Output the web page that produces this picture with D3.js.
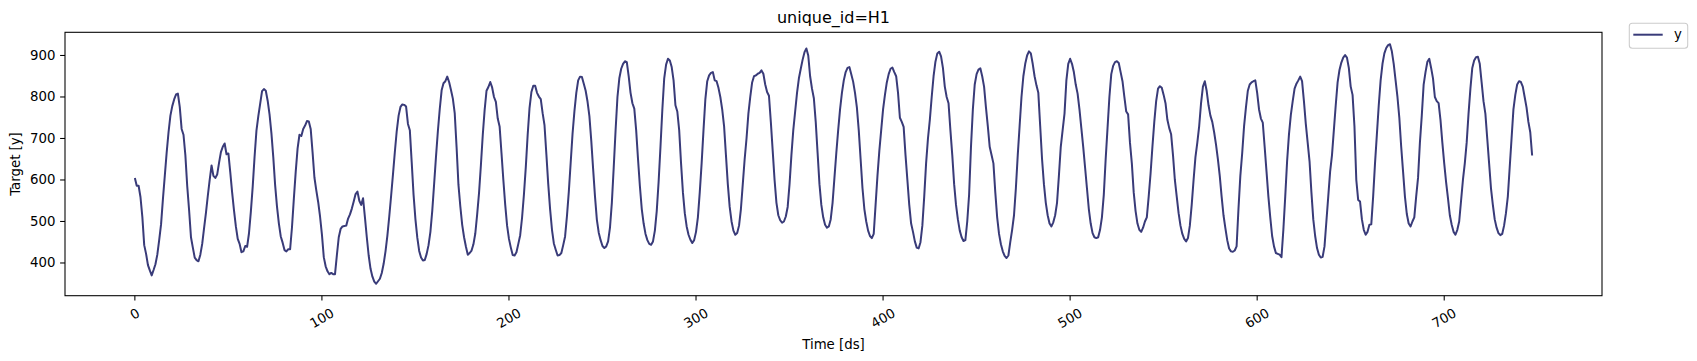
<!DOCTYPE html>
<html><head><meta charset="utf-8">
<script src="https://cdn.jsdelivr.net/npm/d3@7"></script>
<style>body{margin:0;background:#fff;} text{font-family:"DejaVu Sans",sans-serif;fill:#000;}</style>
</head><body><svg id="c" width="1697" height="361"></svg>
<script>
const title = "unique_id=H1";
const seriesName = "y";
const xLabel = "Time [ds]";
const yLabel = "Target [y]";
const xTicks = [0,100,200,300,400,500,600,700];
const yTicks = [400,500,600,700,800,900];
const yValues = [
605,586,586,559,511,443,422,395,382,370,
383,397,420,455,493,554,610,666,715,755,
778,794,806,808,776,723,709,660,585,527,
462,437,413,407,404,420,446,484,521,562,
600,635,610,605,613,641,667,680,688,662,
664,619,570,527,488,458,446,426,428,441,
439,471,523,584,656,719,754,784,814,819,
815,791,758,713,655,587,535,495,464,449,
431,428,433,433,486,555,620,676,709,706,
723,731,742,741,723,667,606,575,547,512,
469,414,392,380,373,376,373,373,419,462,
482,488,489,490,507,517,531,548,566,572,
550,540,556,510,462,418,386,367,355,350,
356,362,376,398,428,466,512,562,614,668,
718,755,776,782,781,777,735,720,643,564,
505,461,429,413,406,407,422,443,475,526,
591,657,718,771,816,833,838,849,836,817,
796,761,679,588,536,492,462,439,420,424,
430,445,471,517,569,636,709,769,815,824,
836,823,800,788,748,729,665,600,540,490,
458,437,419,418,426,446,467,509,565,631,
709,774,812,827,827,810,801,795,761,732,
662,590,529,480,447,432,418,419,424,443,
464,513,572,642,712,766,810,840,849,848,
832,815,789,754,695,626,560,504,473,455,
441,436,440,452,485,545,630,720,800,845,
868,880,886,884,850,810,785,772,720,650,
585,530,495,470,455,446,444,452,478,525,
595,680,770,845,878,892,888,872,840,780,
765,720,640,570,520,488,468,456,448,455,
475,510,570,640,720,795,838,852,858,860,
840,838,822,800,770,730,660,590,535,500,
478,468,472,490,530,590,650,700,760,800,
835,850,852,856,858,864,856,830,812,803,
740,670,600,545,515,503,497,500,512,535,
590,660,720,765,810,845,868,890,908,917,
900,850,820,797,740,665,590,540,510,492,
485,488,505,545,605,665,720,770,810,840,
860,870,872,855,837,810,775,720,650,580,
530,500,478,465,460,470,540,610,670,720,
770,805,835,855,868,871,860,850,810,750,
740,728,660,600,540,495,475,452,437,435,
450,490,560,640,700,745,800,850,885,905,
909,898,870,825,800,785,720,660,590,540,
505,478,462,453,455,500,565,680,770,830,
855,866,869,850,825,775,730,680,660,640,
570,510,470,445,428,417,412,418,450,480,
515,580,660,730,800,850,880,900,910,905,
880,850,828,810,730,650,590,545,515,495,
488,498,515,545,610,680,720,760,840,880,
892,880,860,830,808,770,725,680,630,580,
530,495,472,462,460,462,480,510,564,650,
725,800,855,875,884,886,882,860,838,800,
765,758,690,640,570,525,495,480,475,485,
500,510,560,615,680,740,790,820,826,822,
805,785,745,725,710,660,600,560,520,490,
470,458,452,460,490,540,600,655,690,730,
785,825,838,815,780,755,740,715,685,650,
610,560,515,484,455,435,428,427,430,440,
530,610,665,730,775,815,830,835,838,840,
810,770,748,738,680,620,560,510,465,440,
424,422,420,414,480,560,645,710,757,790,
820,832,840,849,838,790,735,690,645,570,
505,465,436,420,413,415,440,500,560,620,
660,720,780,835,865,883,895,901,895,870,
825,805,730,600,552,548,505,480,468,475,
492,493,560,640,710,780,840,880,905,918,
925,927,910,880,840,800,750,680,620,560,
518,495,488,500,510,560,605,690,755,830,
860,885,892,870,845,800,790,785,745,690,
640,595,556,515,492,475,468,480,500,550,
600,640,690,760,820,870,888,896,897,880,
835,790,760,700,640,580,540,505,485,472,
467,470,490,520,560,630,700,770,805,830,
838,836,825,800,775,740,715,659
];
const ds = yValues.map((_, i) => i);

const svg = d3.select("#c");
svg.append("rect").attr("width",1697).attr("height",361).attr("fill","#fff");
const L = 65, R = 1602, T = 32.3, B = 295.7;
const xr = d3.extent(ds), yr = d3.extent(yValues);
const xm = (xr[1]-xr[0])*0.05, ym = (yr[1]-yr[0])*0.05;
const x = d3.scaleLinear().domain([xr[0]-xm, xr[1]+xm]).range([L, R]);
const y = d3.scaleLinear().domain([yr[0]-ym, yr[1]+ym]).range([B, T]);

const line = d3.line().x((d,i)=>x(ds[i])).y(d=>y(d));
svg.append("path").datum(yValues).attr("d", line)
  .attr("fill","none").attr("stroke","#393b79").attr("stroke-width",2)
  .attr("stroke-linejoin","round").attr("stroke-linecap","butt");

svg.append("rect").attr("x",L).attr("y",T).attr("width",R-L).attr("height",B-T)
  .attr("fill","none").attr("stroke","#000").attr("stroke-width",1.07);

const fs = 13.3;
const xa = svg.append("g");
xTicks.forEach(t=>{
  const px = x(t);
  xa.append("line").attr("x1",px).attr("x2",px).attr("y1",B).attr("y2",B+4.9).attr("stroke","#000").attr("stroke-width",1.07);
  const s = String(t);
  const w = s.length*0.636*fs, h = fs*1.16;
  const bh = w*Math.sin(Math.PI/6) + h*Math.cos(Math.PI/6);
  const cy = B + 4.9 + 4.7 + bh/2;
  xa.append("text").attr("x",px).attr("y",cy).attr("text-anchor","middle")
    .attr("dominant-baseline","central").attr("font-size",fs)
    .attr("transform",`rotate(-30,${px},${cy})`).text(s);
});
const ya = svg.append("g");
yTicks.forEach(t=>{
  const py = y(t);
  ya.append("line").attr("x1",L-4.9).attr("x2",L).attr("y1",py).attr("y2",py).attr("stroke","#000").attr("stroke-width",1.07);
  ya.append("text").attr("x",L-4.9-4.7).attr("y",py).attr("text-anchor","end")
    .attr("dominant-baseline","central").attr("font-size",fs).text(t);
});
svg.append("text").attr("x",(L+R)/2).attr("y",349).attr("text-anchor","middle").attr("font-size",fs).text(xLabel);
svg.append("text").attr("transform",`translate(20,${(T+B)/2}) rotate(-90)`).attr("text-anchor","middle").attr("font-size",fs).text(yLabel);
svg.append("text").attr("x",(L+R)/2).attr("y",T-9).attr("text-anchor","middle").attr("font-size",16).text(title);

const lg = svg.append("g");
lg.append("rect").attr("x",1629.3).attr("y",23.3).attr("width",58.4).attr("height",25).attr("rx",3)
  .attr("fill","#fff").attr("fill-opacity",0.8).attr("stroke","#cccccc").attr("stroke-width",1.07);
lg.append("line").attr("x1",1633.3).attr("x2",1662.7).attr("y1",34.7).attr("y2",34.7).attr("stroke","#393b79").attr("stroke-width",2);
lg.append("text").attr("x",1674).attr("y",34.7).attr("dominant-baseline","central").attr("font-size",fs).text(seriesName);
</script>
</body></html>
